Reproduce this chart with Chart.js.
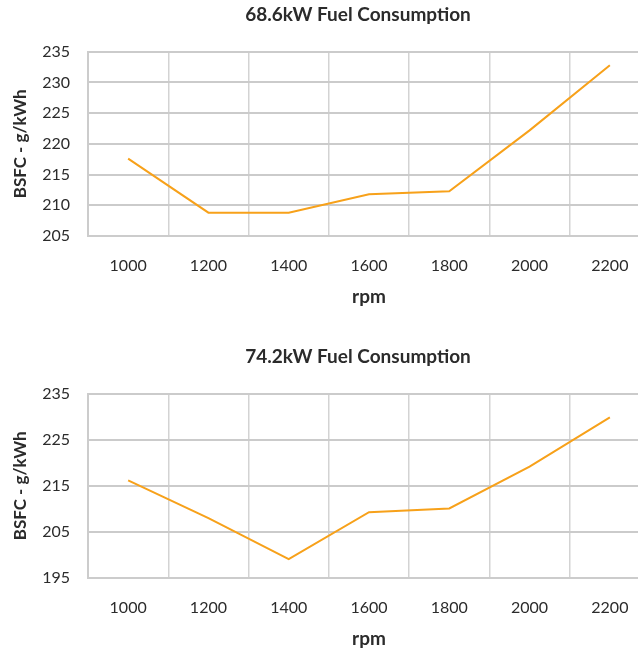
<!DOCTYPE html>
<html>
<head>
<meta charset="utf-8">
<script src="https://cdn.jsdelivr.net/npm/chart.js@4/dist/chart.umd.min.js"></script>
<style>
  html, body { margin: 0; padding: 0; background: #fff; overflow: hidden; }
  body { width: 638px; height: 651px; position: relative; }
  canvas { position: absolute; left: 0; }
</style>
</head>
<body>
<canvas id="chartTop" width="716" height="325" style="top:0"></canvas>
<canvas id="chartBottom" width="716" height="325" style="top:342px"></canvas>
<script>
const rpm = ["1000", "1200", "1400", "1600", "1800", "2000", "2200"];
const bsfc686 = [217.6, 208.8, 208.8, 211.8, 212.3, 222.2, 232.8];
const bsfc742 = [216.2, 208, 199.1, 209.3, 210.1, 219.2, 229.9];

const ink = "#2b2b2b";
const fontFamily = "Lato, 'Open Sans', sans-serif";

function makeChart(id, title, values, yMin, yMax, yStep) {
  const ctx = document.getElementById(id).getContext("2d");
  return new Chart(ctx, {
    type: "line",
    data: {
      labels: rpm,
      datasets: [
        {
          label: title,
          data: values,
          borderColor: "#f7a11a",
          borderWidth: 2,
          pointRadius: 0,
          fill: false,
          tension: 0,
        },
      ],
    },
    options: {
      responsive: false,
      animation: false,
      layout: { padding: { left: 0, right: 0, top: 0, bottom: 15 } },
      plugins: {
        legend: { display: false },
        tooltip: { enabled: false },
        title: {
          display: true,
          text: title,
          color: ink,
          font: { family: fontFamily, size: 19, weight: "bold" },
          padding: { top: 3, bottom: 26 },
        },
      },
      scales: {
        x: {
          type: "category",
          offset: true,
          grid: { offset: true, color: "#d3d3d3", lineWidth: 1.5, drawTicks: false },
          border: { color: "#cccccc", width: 2 },
          ticks: {
            color: ink,
            padding: 20,
            maxRotation: 0,
            font: { family: fontFamily, size: 16 },
          },
          title: {
            display: true,
            text: "rpm",
            color: ink,
            font: { family: fontFamily, size: 19, weight: "bold" },
            padding: { top: 14, bottom: 2 },
          },
          afterFit: (scale) => {
            scale.height = 74;
          },
        },
        y: {
          min: yMin,
          max: yMax,
          grid: { color: "#cbcbcb", lineWidth: 2, drawTicks: false },
          border: { color: "#cccccc", width: 2 },
          ticks: {
            stepSize: yStep,
            color: ink,
            padding: 18,
            font: { family: fontFamily, size: 16 },
          },
          title: {
            display: true,
            text: "BSFC - g/kWh",
            color: ink,
            font: { family: fontFamily, size: 17, weight: "bold" },
            padding: { top: 10, bottom: 10 },
          },
          afterFit: (scale) => {
            scale.width = 88;
          },
        },
        // empty spacer on the right so the plot ends past the visible edge
        spacer: {
          type: "linear",
          position: "right",
          display: true,
          grid: { display: false },
          border: { display: false },
          ticks: { display: false },
          afterFit: (scale) => {
            scale.width = 66;
          },
        },
      },
    },
  });
}

makeChart("chartTop", "68.6kW Fuel Consumption", bsfc686, 205, 235, 5);
makeChart("chartBottom", "74.2kW Fuel Consumption", bsfc742, 195, 235, 10);
</script>
</body>
</html>
